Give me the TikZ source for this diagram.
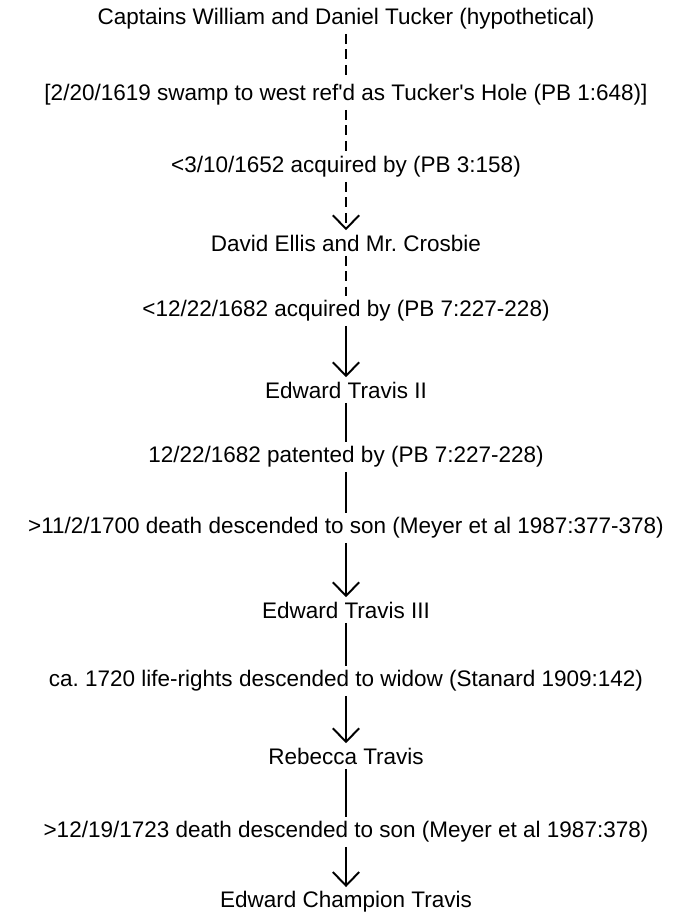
\documentclass[tikz,border=0pt]{standalone}
\usepackage{fontspec}
\setmainfont{Liberation Sans}
\usetikzlibrary{arrows.meta}
\frenchspacing

\begin{document}
\begin{tikzpicture}[x=0.025cm, y=-0.025cm,
    entry/.style={inner sep=3pt, font=\fontsize{16}{19}\selectfont},
    link/.style={line width=1.4pt},
    dashlink/.style={link, dash pattern=on 7pt off 4pt},
    to/.style={-{Straight Barb[length=3.4mm, width=6.6mm, line width=1.4pt]}}]
    \useasboundingbox (0,0) rectangle (684,913);
    % owners and the deeds between them, top to bottom
    \node[entry] (captains)  at (346,19)  {Captains William and Daniel Tucker (hypothetical)};
    \node[entry] (swamp)     at (346,95)  {[2/20/1619 swamp to west ref\textquotesingle d as Tucker\textquotesingle s Hole (PB 1:648)]};
    \node[entry] (acq1652)   at (346,167) {<3/10/1652 acquired by (PB 3:158)};
    \node[entry] (ellis)     at (346,243) {David Ellis and Mr. Crosbie};
    \node[entry] (acq1682)   at (346,311) {<12/22/1682 acquired by (PB 7:227-228)};
    \node[entry] (travisII)  at (346,390) {Edward Travis II};
    \node[entry] (pat1682)   at (346,457) {12/22/1682 patented by (PB 7:227-228)};
    \node[entry] (death1700) at (346,528) {>11/2/1700 death descended to son (Meyer et al 1987:377-378)};
    \node[entry] (travisIII) at (346,610) {Edward Travis III};
    \node[entry] (widow1720) at (346,681) {ca. 1720 life-rights descended to widow (Stanard 1909:142)};
    \node[entry] (rebecca)   at (346,756) {Rebecca Travis};
    \node[entry] (death1723) at (346,832) {>12/19/1723 death descended to son (Meyer et al 1987:378)};
    \node[entry] (champion)  at (346,902) {Edward Champion Travis};

    \draw[dashlink] (captains) -- (swamp);
    \draw[dashlink] (swamp) -- (acq1652);
    \draw[dashlink, to] (acq1652) -- (ellis);
    \draw[dashlink] (ellis) -- (acq1682);
    \draw[link, to] (acq1682) -- (travisII);
    \draw[link] (travisII) -- (pat1682);
    \draw[link] (pat1682) -- (death1700);
    \draw[link, to] (death1700) -- (travisIII);
    \draw[link] (travisIII) -- (widow1720);
    \draw[link, to] (widow1720) -- (rebecca);
    \draw[link] (rebecca) -- (death1723);
    \draw[link, to] (death1723) -- (champion);
\end{tikzpicture}
\end{document}
